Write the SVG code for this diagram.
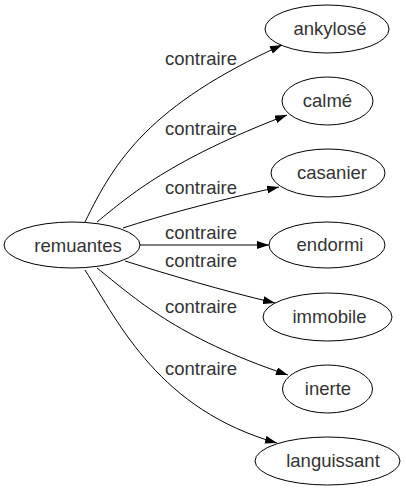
<svg xmlns="http://www.w3.org/2000/svg" width="406" height="491" viewBox="0 0 406 491">
<style>
.node ellipse{fill:#fff;stroke:#000;stroke-width:1}
.node text{font-family:"Liberation Sans",Arial,sans-serif;font-size:18.5px;fill:#333;text-anchor:middle}
.edges path{fill:none;stroke:#000;stroke-width:1}
.lbl{font-family:"Liberation Sans",Arial,sans-serif;font-size:18.5px;fill:#333;text-anchor:middle}
</style>
<defs>
<marker id="ah" markerWidth="12" markerHeight="8" refX="12" refY="4" orient="auto" markerUnits="userSpaceOnUse">
<path d="M0,0 L12,4 L0,8 z" fill="#000"/>
</marker>
</defs>
<rect width="406" height="491" fill="#fff"/>
<g class="edges">
<path d="M85,222 C115,160 150,105 282,45" marker-end="url(#ah)"/>
<path d="M97,222 C130,195 170,160 287,115" marker-end="url(#ah)"/>
<path d="M123,228 C160,216 210,202 279,187" marker-end="url(#ah)"/>
<path d="M140,245 L269,245" marker-end="url(#ah)"/>
<path d="M125,261 C170,275 220,290 275,303" marker-end="url(#ah)"/>
<path d="M97,268 C135,298 175,337 288,375" marker-end="url(#ah)"/>
<path d="M85,270 C120,325 160,410 277,443" marker-end="url(#ah)"/>
<text class="lbl" x="201" y="65">contraire</text>
<text class="lbl" x="201" y="135">contraire</text>
<text class="lbl" x="201" y="194">contraire</text>
<text class="lbl" x="201" y="239">contraire</text>
<text class="lbl" x="201" y="267">contraire</text>
<text class="lbl" x="201" y="313">contraire</text>
<text class="lbl" x="201" y="375">contraire</text>
</g>
<g id="remuantes" class="node"><ellipse cx="72" cy="245" rx="68" ry="23"/><text x="78" y="252">remuantes</text></g>
<g id="ankylose" class="node"><ellipse cx="327" cy="29" rx="62" ry="24"/><text x="330" y="35">ankylosé</text></g>
<g id="calme" class="node"><ellipse cx="327.5" cy="101" rx="45.5" ry="24"/><text x="327.5" y="107">calmé</text></g>
<g id="casanier" class="node"><ellipse cx="328" cy="173" rx="57" ry="24"/><text x="332" y="179">casanier</text></g>
<g id="endormi" class="node"><ellipse cx="327" cy="245" rx="58" ry="23"/><text x="330" y="251">endormi</text></g>
<g id="immobile" class="node"><ellipse cx="327.5" cy="317" rx="64.5" ry="24"/><text x="329.5" y="323">immobile</text></g>
<g id="inerte" class="node"><ellipse cx="327.5" cy="389" rx="45" ry="24"/><text x="328" y="395">inerte</text></g>
<g id="languissant" class="node"><ellipse cx="327.5" cy="461" rx="72.5" ry="24"/><text x="333" y="467">languissant</text></g>
</svg>
